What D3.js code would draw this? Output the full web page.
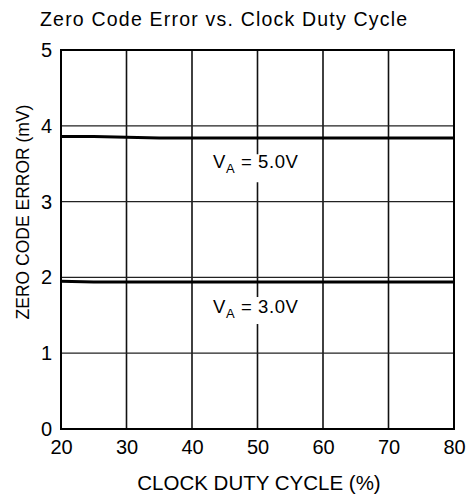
<!DOCTYPE html>
<html>
<head>
<meta charset="utf-8">
<script src="https://cdn.jsdelivr.net/npm/d3@7"></script>
<style>
  body { margin: 0; background: #fff; }
  text { font-family: "Liberation Sans", Arial, sans-serif; fill: #000; }
</style>
</head>
<body>
<div id="chart"></div>
<script>
// Data
var dutyCycle = [20, 25, 30, 35, 40, 45, 50, 55, 60, 65, 70, 75, 80];
var errorVA5 = [3.86, 3.86, 3.85, 3.84, 3.84, 3.84, 3.84, 3.84, 3.84, 3.84, 3.84, 3.84, 3.84];
var errorVA3 = [1.95, 1.94, 1.94, 1.94, 1.94, 1.94, 1.94, 1.94, 1.94, 1.94, 1.94, 1.94, 1.94];
var xTicks = [20, 30, 40, 50, 60, 70, 80];
var yTicks = [0, 1, 2, 3, 4, 5];

var svgWidth = 471;
var svgHeight = 502;
var margin = { top: 50, right: 17, bottom: 73, left: 61 };
var width = svgWidth - margin.left - margin.right;
var height = svgHeight - margin.top - margin.bottom;

var svg = d3.select("#chart")
  .append("svg")
  .attr("width", svgWidth)
  .attr("height", svgHeight);

var chartGroup = svg.append("g")
  .attr("transform", `translate(${margin.left}, ${margin.top})`);

var xScale = d3.scaleLinear().domain([20, 80]).range([0, width]);
var yScale = d3.scaleLinear().domain([0, 5]).range([height, 0]);

// Grid
chartGroup.append("g")
  .selectAll("line")
  .data(xTicks)
  .enter()
  .append("line")
  .attr("x1", d => xScale(d)).attr("x2", d => xScale(d))
  .attr("y1", 0).attr("y2", height)
  .attr("stroke", "#111")
  .attr("stroke-width", 1.6);

chartGroup.append("g")
  .selectAll("line")
  .data(yTicks)
  .enter()
  .append("line")
  .attr("x1", 0).attr("x2", width)
  .attr("y1", d => yScale(d)).attr("y2", d => yScale(d))
  .attr("stroke", "#222")
  .attr("stroke-width", 1.3);

// Frame
chartGroup.append("rect")
  .attr("width", width)
  .attr("height", height)
  .attr("fill", "none")
  .attr("stroke", "#000")
  .attr("stroke-width", 2);

// Axes (labels only)
var bottomAxis = d3.axisBottom(xScale).tickValues(xTicks).tickFormat(d3.format("d")).tickSize(0).tickPadding(11);
var leftAxis = d3.axisLeft(yScale).tickValues(yTicks).tickFormat(d3.format("d")).tickSize(0).tickPadding(9);

var gx = chartGroup.append("g")
  .attr("transform", `translate(0, ${height})`)
  .call(bottomAxis);
gx.select(".domain").remove();
gx.selectAll("text").style("font-size", "20px").attr("fill", "#000");

var gy = chartGroup.append("g").call(leftAxis);
gy.select(".domain").remove();
gy.selectAll("text").style("font-size", "20px").attr("fill", "#000");

// Series lines
var line = d3.line()
  .x((d, i) => xScale(dutyCycle[i]))
  .y(d => yScale(d));

[errorVA5, errorVA3].forEach(function(series) {
  chartGroup.append("path")
    .datum(series)
    .attr("d", line)
    .attr("fill", "none")
    .attr("stroke", "#000")
    .attr("stroke-width", 3);
});

// Series labels, with a white box so the grid line is broken
function seriesLabel(value, xVal, yVal, up, down) {
  var g = chartGroup.append("g");
  var x0 = xScale(xVal), y0 = yScale(yVal);
  var rect = g.append("rect").attr("fill", "#fff");
  var t = g.append("text")
    .attr("x", x0)
    .attr("y", y0)
    .style("font-size", "18.5px")
    .style("letter-spacing", "0.6px");
  t.append("tspan").text("V");
  t.append("tspan").attr("dy", 5).style("font-size", "13px").text("A");
  t.append("tspan").attr("dy", -5).text(" = " + value);
  var bb = t.node().getBBox();
  rect.attr("x", bb.x).attr("y", y0 - up)
    .attr("width", bb.width).attr("height", up + down);
}
seriesLabel("5.0V", 43.2, 3.44, 14, 14);
seriesLabel("3.0V", 43.2, 1.53, 16, 11);

// Titles
svg.append("text")
  .attr("x", 40)
  .attr("y", 26)
  .style("font-size", "19.5px")
  .style("letter-spacing", "1.2px")
  .text("Zero Code Error vs. Clock Duty Cycle");

svg.append("text")
  .attr("x", 259)
  .attr("y", 490)
  .attr("text-anchor", "middle")
  .style("font-size", "20.5px")
  .text("CLOCK DUTY CYCLE (%)");

svg.append("text")
  .attr("transform", "translate(29, 212) rotate(-90)")
  .attr("text-anchor", "middle")
  .style("font-size", "17.5px")
  .text("ZERO CODE ERROR (mV)");
</script>
</body>
</html>
